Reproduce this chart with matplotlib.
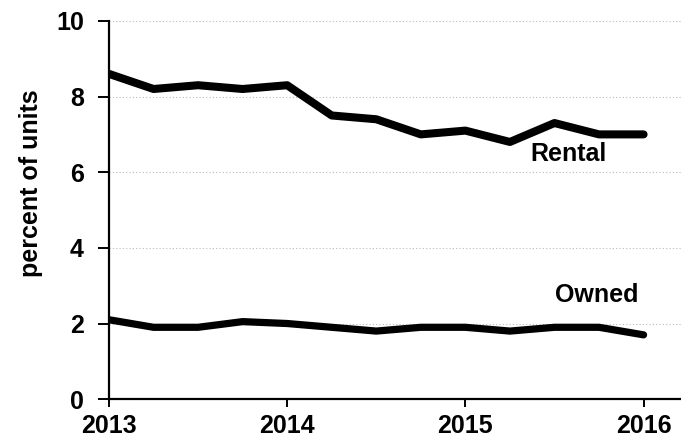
import numpy as np
import matplotlib.pyplot as plt

plt.rcParams['font.family'] = ['Liberation Sans', 'DejaVu Sans']

# quarterly observations, 2013Q1 .. 2016Q1
quarters = 2013 + np.arange(13) / 4
rental = [8.6, 8.2, 8.3, 8.2, 8.3, 7.5, 7.4, 7.0, 7.1, 6.8, 7.3, 7.0, 7.0]
owned = [2.1, 1.9, 1.9, 2.05, 2.0, 1.9, 1.8, 1.9, 1.9, 1.8, 1.9, 1.9, 1.7]
year_ticks = [2013, 2014, 2015, 2016]
y_ticks = [0, 2, 4, 6, 8, 10]

fig = plt.figure(figsize=(6.81, 4.45), dpi=100)
ax = fig.add_axes([0.160, 0.103, 0.84, 0.850])

for y in y_ticks[1:]:
    ax.axhline(y, color='#bbbbbb', lw=0.8, ls=(0, (1, 2)), zorder=0)

ax.plot(quarters, rental, color='black', lw=5.8, solid_joinstyle='round', solid_capstyle='round')
ax.plot(quarters, owned, color='black', lw=5.2, solid_joinstyle='round', solid_capstyle='round')

ax.text(2015.58, 6.48, 'Rental', fontsize=18, fontweight='bold', ha='center', va='center')
ax.text(2015.74, 2.75, 'Owned', fontsize=18, fontweight='bold', ha='center', va='center')

ax.set_xlim(2013, 2016.21)
ax.set_ylim(0, 10)
ax.set_xticks(year_ticks)
ax.set_yticks(y_ticks)
ax.set_xticklabels([str(t) for t in year_ticks], fontsize=18, fontweight='bold')
ax.set_yticklabels([str(t) for t in y_ticks], fontsize=18, fontweight='bold')
ax.set_ylabel('percent of units', fontsize=18, fontweight='bold')
ax.yaxis.set_label_coords(-0.115, 0.57)

for s in ['top', 'right']:
    ax.spines[s].set_visible(False)
for s in ['left', 'bottom']:
    ax.spines[s].set_linewidth(1.6)
    ax.spines[s].set_color('black')
ax.tick_params(axis='y', length=8, width=1.4, pad=10)
ax.tick_params(axis='x', length=6, width=1.4, pad=5)

fig.savefig('out.png', dpi=100)
